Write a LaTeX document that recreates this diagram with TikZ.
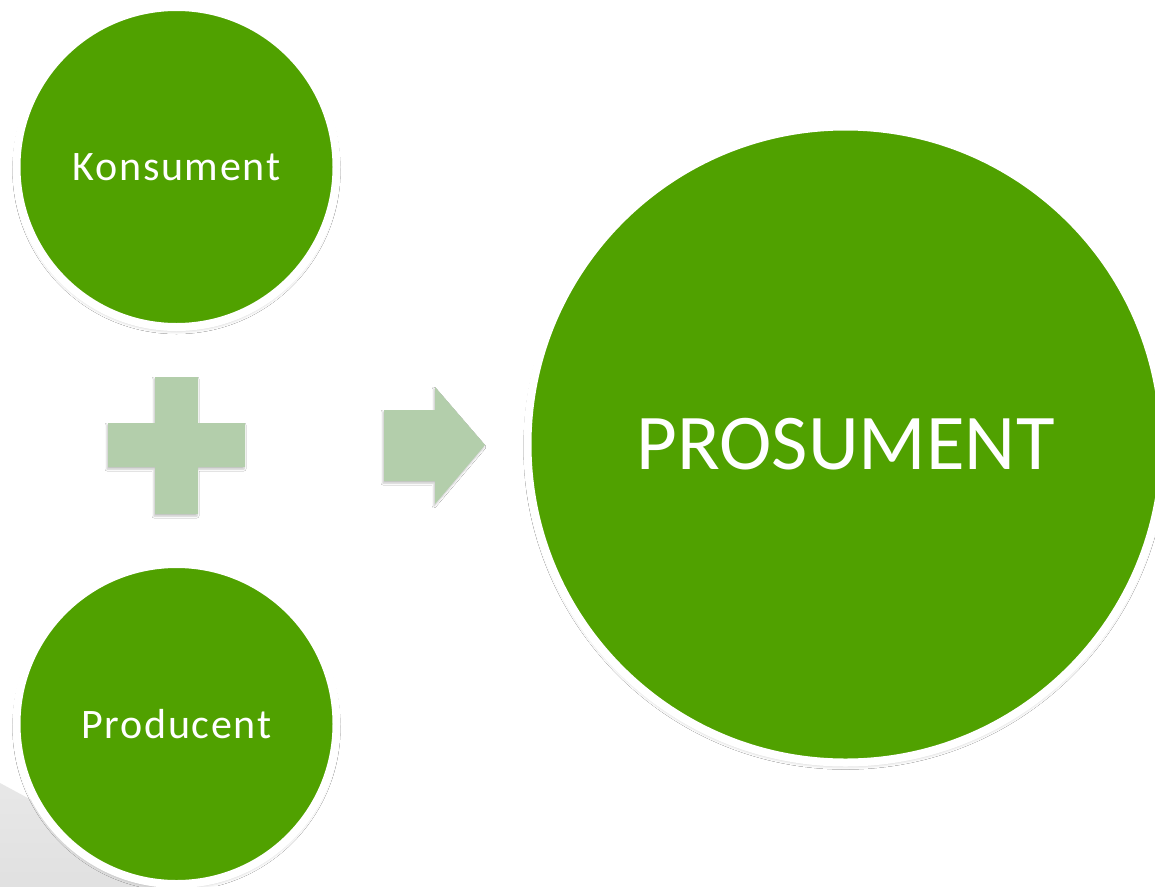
\documentclass[tikz,border=0pt]{standalone}
\usepackage{fontspec}
\setmainfont{Carlito}
\newfontfamily\widecarlito[LetterSpace=4]{Carlito}
\usetikzlibrary{shadows.blur}
\definecolor{leaf}{RGB}{80,161,0}
\definecolor{pale}{RGB}{179,206,171}
\definecolor{curl}{RGB}{216,216,216}
\begin{document}
\begin{tikzpicture}[x=1pt,y=-1pt,
  bubble/.style={circle, draw=white, line width=8pt, fill=leaf, inner sep=0pt, text=white,
    blur shadow={shadow xshift=0pt, shadow yshift=-3pt, shadow blur radius=4pt, shadow opacity=30}},
  small/.style={bubble, minimum size=320pt, font=\widecarlito\fontsize{42}{42}\selectfont},
  big/.style={bubble, minimum size=636pt, font=\fontsize{79}{79}\selectfont},
  sign/.style={fill=pale,
    blur shadow={shadow xshift=-1pt, shadow yshift=-2pt, shadow blur radius=2pt, shadow opacity=25}}]
\useasboundingbox (0,0) rectangle (1155,886);
\clip (0,0) rectangle (1155,886);
\fill[white] (0,0) rectangle (1155,886);
% page curl in lower left corner
\shade[top color=curl!60!white, bottom color=curl] (0,783) -- (420,1010) -- (0,1010) -- cycle;
% circles with labels
\node[small] (kons) at (176.5,167) {Konsument};
\node[small] (prod) at (176.5,724) {Producent};
\node[big] (pros) at (845.5,444.5) {PROSUMENT};
% plus sign
\path[sign] (155,377) -- (198,377) -- (198,423) -- (245,423) -- (245,467) -- (198,467)
  -- (198,514) -- (155,514) -- (155,467) -- (108,467) -- (108,423) -- (155,423) -- cycle;
% arrow
\path[sign] (384,410) -- (435,410) -- (435,387) -- (485,445) -- (435,504) -- (435,481)
  -- (384,481) -- cycle;
\end{tikzpicture}
\end{document}
